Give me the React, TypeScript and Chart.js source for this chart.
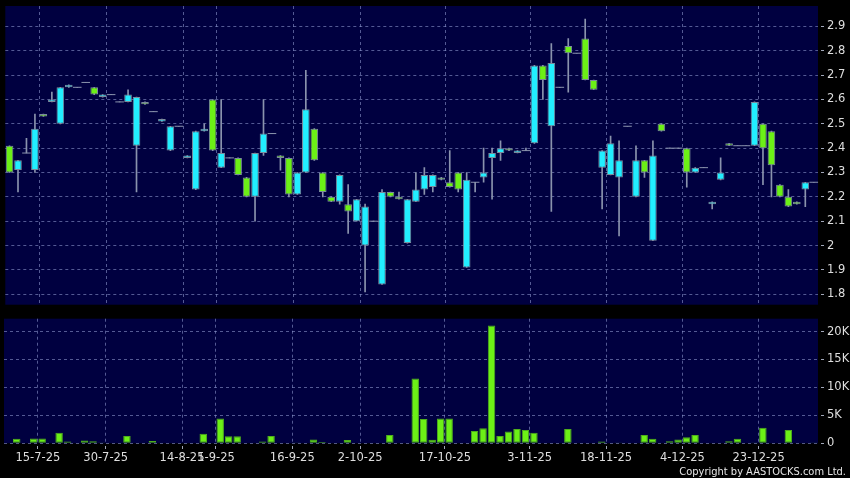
import React, { useEffect, useRef } from 'react';
import { Chart, registerables } from 'chart.js';

Chart.register(...registerables);

// ---- data ----
const opens = [
  2.41, 2.31, 2.38, 2.31, 2.54, 2.59, 2.50, 2.65, 2.65, 2.67,
  2.65, 2.61, 2.62, 2.59, 2.59, 2.41, 2.59, 2.55, 2.51, 2.39,
  2.49, 2.36, 2.23, 2.47, 2.60, 2.32, 2.36, 2.36, 2.28, 2.20,
  2.38, 2.46, 2.37, 2.36, 2.21, 2.30, 2.48, 2.30, 2.20, 2.18,
  2.17, 2.10, 2.00, 2.10, 1.84, 2.22, 2.20, 2.01, 2.18, 2.23,
  2.24, 2.28, 2.26, 2.30, 1.91, 2.26, 2.28, 2.36, 2.38, 2.40,
  2.38, 2.39, 2.42, 2.74, 2.49, 2.65, 2.82, 2.79, 2.85, 2.68,
  2.32, 2.29, 2.28, 2.49, 2.20, 2.35, 2.02, 2.50, 2.40, 2.40,
  2.40, 2.30, 2.32, 2.17, 2.27, 2.42, 2.41, 2.41, 2.41, 2.50,
  2.47, 2.25, 2.20, 2.18, 2.23, 2.26,
];
const highs = [
  2.41, 2.35, 2.44, 2.54, 2.54, 2.63, 2.65, 2.66, 2.65, 2.67,
  2.65, 2.62, 2.62, 2.59, 2.64, 2.61, 2.59, 2.55, 2.52, 2.49,
  2.49, 2.37, 2.47, 2.50, 2.60, 2.60, 2.36, 2.36, 2.28, 2.38,
  2.60, 2.46, 2.37, 2.36, 2.30, 2.72, 2.48, 2.30, 2.20, 2.29,
  2.25, 2.19, 2.17, 2.10, 2.23, 2.22, 2.22, 2.19, 2.30, 2.32,
  2.29, 2.28, 2.39, 2.30, 2.30, 2.26, 2.40, 2.40, 2.43, 2.40,
  2.39, 2.40, 2.74, 2.74, 2.83, 2.65, 2.85, 2.79, 2.93, 2.68,
  2.39, 2.45, 2.43, 2.49, 2.41, 2.35, 2.43, 2.50, 2.40, 2.40,
  2.40, 2.32, 2.32, 2.18, 2.36, 2.42, 2.41, 2.41, 2.59, 2.50,
  2.47, 2.25, 2.23, 2.18, 2.26, 2.26,
];
const lows = [
  2.30, 2.22, 2.38, 2.30, 2.53, 2.59, 2.50, 2.65, 2.65, 2.67,
  2.62, 2.61, 2.62, 2.59, 2.59, 2.22, 2.58, 2.55, 2.51, 2.39,
  2.49, 2.36, 2.23, 2.47, 2.39, 2.32, 2.36, 2.29, 2.20, 2.10,
  2.37, 2.46, 2.31, 2.20, 2.21, 2.30, 2.35, 2.20, 2.18, 2.17,
  2.05, 2.10, 1.81, 2.10, 1.84, 2.20, 2.19, 2.01, 2.18, 2.21,
  2.22, 2.27, 2.24, 2.22, 1.91, 2.22, 2.26, 2.19, 2.35, 2.39,
  2.38, 2.39, 2.42, 2.60, 2.14, 2.65, 2.63, 2.79, 2.68, 2.64,
  2.15, 2.29, 2.04, 2.49, 2.20, 2.28, 2.02, 2.47, 2.40, 2.40,
  2.24, 2.30, 2.32, 2.15, 2.27, 2.41, 2.41, 2.41, 2.41, 2.25,
  2.20, 2.20, 2.16, 2.17, 2.16, 2.26,
];
const closes = [
  2.30, 2.35, 2.38, 2.48, 2.53, 2.60, 2.65, 2.66, 2.65, 2.67,
  2.62, 2.62, 2.62, 2.59, 2.62, 2.61, 2.58, 2.55, 2.52, 2.49,
  2.49, 2.37, 2.47, 2.48, 2.39, 2.38, 2.36, 2.29, 2.20, 2.38,
  2.46, 2.46, 2.36, 2.21, 2.30, 2.56, 2.35, 2.22, 2.18, 2.29,
  2.14, 2.19, 2.16, 2.10, 2.22, 2.20, 2.19, 2.19, 2.23, 2.29,
  2.29, 2.27, 2.24, 2.23, 2.27, 2.26, 2.30, 2.38, 2.40, 2.39,
  2.39, 2.39, 2.74, 2.68, 2.75, 2.65, 2.79, 2.79, 2.68, 2.64,
  2.39, 2.42, 2.35, 2.49, 2.35, 2.30, 2.37, 2.47, 2.40, 2.40,
  2.30, 2.32, 2.32, 2.18, 2.30, 2.41, 2.41, 2.41, 2.59, 2.40,
  2.33, 2.20, 2.16, 2.17, 2.26, 2.26,
];
// volume, in thousands of shares
const volumesK = [
  0, 0.8, 0, 0.85, 0.85, 0, 1.9, 0.3, 0, 0.5,
  0.35, 0.15, 0, 0, 1.3, 0.1, 0, 0.4, 0, 0,
  0, 0, 0, 1.7, 0, 4.45, 1.25, 1.25, 0, 0,
  0.3, 1.3, 0, 0, 0.15, 0, 0.7, 0.25, 0, 0,
  0.6, 0, 0, 0, 0, 1.5, 0, 0, 11.6, 4.35,
  0.65, 4.45, 4.45, 0.1, 0, 2.2, 2.7, 21.1, 1.3, 2.1,
  2.55, 2.4, 1.9, 0, 0, 0, 2.55, 0, 0, 0,
  0.3, 0, 0.05, 0, 0, 1.5, 0.8, 0, 0.35, 0.7,
  1.1, 1.5, 0, 0, 0, 0.35, 0.8, 0, 0.15, 2.8,
  0, 0, 2.4, 0, 0, 0.05,
];
const xLabelTexts = ['15-7-25', '30-7-25', '14-8-25', '1-9-25', '16-9-25', '2-10-25', '17-10-25', '3-11-25', '18-11-25', '4-12-25', '23-12-25'];
const xLabelSlots = [4, 12, 21, 25, 34, 42, 52, 62, 71, 80, 89];

// ---- style ----
const UP = '#22eeff';
const DOWN = '#6cf016';
const EDGE = '#7b8a9c';
const WICK = '#8a93ad';
const NAVY = '#000040';
const GRID = 'rgba(140,150,205,0.6)';
const TICKC = '#a0a6b8';
const TEXT = '#dedede';
const FONT = { family: "'DejaVu Sans', sans-serif", size: 11.5 };
const CLEAR = 'rgba(0,0,0,0)';
const AXIS_W = 32;
const PRICE_MIN = 1.757;
const PRICE_MAX = 2.984;
const VOL_MAX_K = 22.3;

const N = opens.length;
const categories = Array.from({ length: N }, (_, i) => {
  const k = xLabelSlots.indexOf(i);
  return k >= 0 ? xLabelTexts[k] : '';
});
const slotSet = new Set(xLabelSlots);
const bodies = opens.map((o, i) => (o === closes[i] ? null : [o, closes[i]]));
const dojis = opens.map((o, i) => (o === closes[i] ? o : null));
const wicks = lows.map((l, i) => [l, highs[i]]);

const bgPlugin = {
  id: 'plotBg',
  beforeDraw(chart: any) {
    const { ctx, chartArea: a } = chart;
    ctx.save();
    ctx.fillStyle = NAVY;
    ctx.fillRect(a.left, a.top, a.right - a.left, a.bottom - a.top);
    ctx.restore();
  },
};

const xGrid = (showTicks: boolean) => ({
  offset: true,
  color: (c: any) => (slotSet.has(c.index) ? GRID : CLEAR),
  tickColor: (c: any) => (slotSet.has(c.index) ? TICKC : CLEAR),
  drawTicks: showTicks,
  tickLength: 6,
  tickBorderDash: [0, 3, 3, 0],
});

function yAxis(min: number, max: number, step: number, fmt: (v: number) => string) {
  return {
    position: 'right',
    min,
    max,
    grid: { color: GRID, tickColor: TICKC, tickLength: 6, tickBorderDash: [0, 3, 3, 0] },
    border: { display: false, dash: [3, 3] },
    ticks: {
      stepSize: step,
      includeBounds: false,
      color: TEXT,
      font: FONT,
      padding: 3,
      callback: (v: any) => fmt(Number(v)),
    },
    afterFit: (s: any) => {
      s.width = AXIS_W;
      s.paddingTop = 0;
      s.paddingBottom = 0;
    },
  };
}

export default function App() {
  const topRef = useRef<HTMLCanvasElement>(null);
  const volRef = useRef<HTMLCanvasElement>(null);

  useEffect(() => {
    document.body.style.margin = '0';
    document.body.style.background = '#000';

    const common = {
      responsive: false,
      maintainAspectRatio: false,
      animation: false,
      devicePixelRatio: 1,
      events: [],
      plugins: { legend: { display: false }, tooltip: { enabled: false } },
    };

    const top = new Chart(topRef.current as HTMLCanvasElement, {
      type: 'bar',
      data: {
        labels: categories,
        datasets: [
          {
            type: 'bar',
            label: 'body',
            data: bodies as any,
            backgroundColor: (c: any) => (closes[c.dataIndex] > opens[c.dataIndex] ? UP : DOWN),
            borderColor: EDGE,
            borderWidth: 1,
            borderSkipped: false,
            grouped: false,
            barPercentage: 0.9,
            categoryPercentage: 1,
            order: 0,
          } as any,
          {
            type: 'line',
            label: 'doji',
            data: dojis as any,
            showLine: false,
            pointStyle: 'line',
            pointRadius: 4.3,
            pointHoverRadius: 4.3,
            pointBorderColor: WICK,
            pointBorderWidth: 1,
            order: 1,
          } as any,
          {
            type: 'bar',
            label: 'wick',
            data: wicks as any,
            backgroundColor: WICK,
            barThickness: 1,
            grouped: false,
            order: 2,
          } as any,
        ],
      },
      options: {
        ...common,
        layout: { padding: { top: 6, bottom: 4, left: 4, right: 0 } },
        scales: {
          x: {
            type: 'category',
            offset: true,
            grid: xGrid(false),
            border: { display: false, dash: [3, 3] },
            ticks: { display: false },
            afterFit: (s: any) => {
              s.height = 0;
              s.paddingLeft = 0;
              s.paddingRight = 0;
            },
          },
          y: yAxis(PRICE_MIN, PRICE_MAX, 0.1, (v) => String(Number(v.toFixed(1)))),
        },
      } as any,
      plugins: [bgPlugin],
    });

    const vol = new Chart(volRef.current as HTMLCanvasElement, {
      type: 'bar',
      data: {
        labels: categories,
        datasets: [
          {
            label: 'volume',
            data: volumesK,
            backgroundColor: DOWN,
            borderColor: '#4fae1c',
            borderWidth: 1,
            borderSkipped: false,
            barPercentage: 0.88,
            categoryPercentage: 1,
          } as any,
        ],
      },
      options: {
        ...common,
        layout: { padding: { top: 8.7, bottom: 0, left: 4, right: 0 } },
        scales: {
          x: {
            type: 'category',
            offset: true,
            grid: xGrid(true),
            border: { display: false, dash: [3, 3] },
            ticks: {
              autoSkip: false,
              maxRotation: 0,
              minRotation: 0,
              labelOffset: -(814 / N) / 2,
              padding: 2,
              color: TEXT,
              font: FONT,
            },
            afterFit: (s: any) => {
              s.height = 34.7;
              s.paddingLeft = 0;
              s.paddingRight = 0;
            },
          },
          y: yAxis(0, VOL_MAX_K, 5, (v) => (v === 0 ? '0' : `${Math.round(v)}K`)),
        },
      } as any,
      plugins: [bgPlugin],
    });

    return () => {
      top.destroy();
      vol.destroy();
    };
  }, []);

  return (
    <div style={{ position: 'relative', width: 850, height: 478, background: '#000', overflow: 'hidden' }}>
      <canvas ref={topRef} width={850} height={310} style={{ position: 'absolute', left: 0, top: 0 }} />
      <canvas ref={volRef} width={850} height={168} style={{ position: 'absolute', left: 0, top: 310 }} />
      <div
        style={{
          position: 'absolute',
          right: 4,
          top: 466,
          fontFamily: "'DejaVu Sans Condensed', 'DejaVu Sans', sans-serif",
          fontSize: 11,
          lineHeight: '11px',
          color: '#e6e6e6',
          whiteSpace: 'nowrap',
        }}
      >
        Copyright by AASTOCKS.com Ltd.
      </div>
    </div>
  );
}
